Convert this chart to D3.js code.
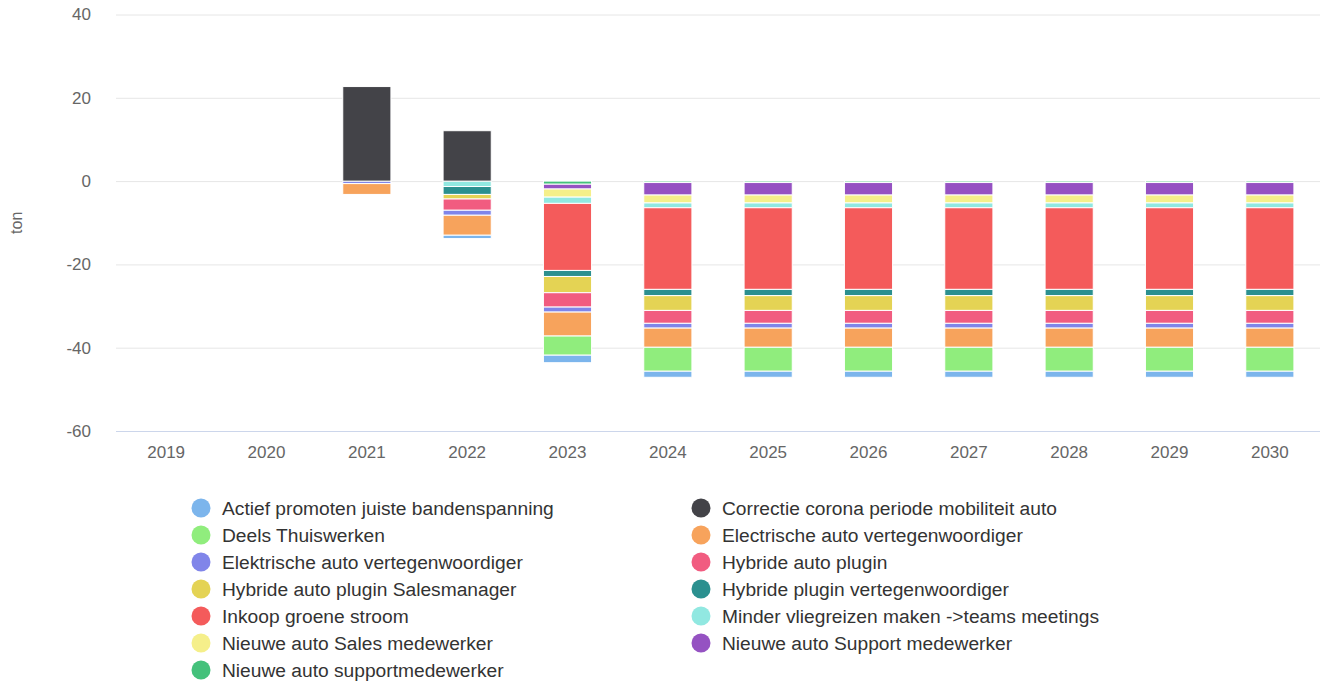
<!DOCTYPE html>
<html lang="nl">
<head>
<meta charset="UTF-8">
<title>ton per jaar</title>
<script src="https://cdn.jsdelivr.net/npm/d3@7"></script>
<style>
	* { margin: 0; padding: 0; }
	body { background: #fff; }
	svg { display: block; font-family: "Liberation Sans", Arial, sans-serif; }
</style>
</head>
<body>
<script>
	// categorieen (jaren)
	var years = ['2019', '2020', '2021', '2022', '2023', '2024', '2025', '2026', '2027', '2028', '2029', '2030'];
	var yTicks = [40, 20, 0, -20, -40, -60];

	var seriesNames = [
		'Actief promoten juiste bandenspanning',
		'Correctie corona periode mobiliteit auto',
		'Deels Thuiswerken',
		'Electrische auto vertegenwoordiger',
		'Elektrische auto vertegenwoordiger',
		'Hybride auto plugin',
		'Hybride auto plugin Salesmanager',
		'Hybride plugin vertegenwoordiger',
		'Inkoop groene stroom',
		'Minder vliegreizen maken ->teams meetings',
		'Nieuwe auto Sales medewerker',
		'Nieuwe auto Support medewerker',
		'Nieuwe auto supportmedewerker'
	];
	var seriesColors = ['#7cb5ec', '#434348', '#90ed7d', '#f7a35c', '#8085e9', '#f15c80', '#e4d354',
		'#2b908f', '#f45b5b', '#91e8e1', '#f5ef8a', '#9552c2', '#44c17b'];

	// waarden per serie, 2019 t/m 2030
	var actief         = [0, 0, 0, -0.8, -1.8, -1.45, -1.45, -1.45, -1.45, -1.45, -1.45, -1.45];
	var correctie      = [0, 0, 22.7, 12.1, 0, 0, 0, 0, 0, 0, 0, 0];
	var deels          = [0, 0, 0, 0, -4.6, -5.75, -5.75, -5.75, -5.75, -5.75, -5.75, -5.75];
	var electrische    = [0, 0, -2.6, -4.8, -5.75, -4.6, -4.6, -4.6, -4.6, -4.6, -4.6, -4.6];
	var elektrische    = [0, 0, -0.6, -1.2, -1.2, -1.15, -1.15, -1.15, -1.15, -1.15, -1.15, -1.15];
	var hybride        = [0, 0, 0, -2.7, -3.45, -3.1, -3.1, -3.1, -3.1, -3.1, -3.1, -3.1];
	var hybrideSales   = [0, 0, 0, -1.1, -3.9, -3.55, -3.55, -3.55, -3.55, -3.55, -3.55, -3.55];
	var hybrideVert    = [0, 0, 0, -1.9, -1.45, -1.5, -1.5, -1.5, -1.5, -1.5, -1.5, -1.5];
	var inkoop         = [0, 0, 0, 0, -16.1, -19.6, -19.6, -19.6, -19.6, -19.6, -19.6, -19.6];
	var minderVliegen  = [0, 0, 0, -1.3, -1.5, -1.15, -1.15, -1.15, -1.15, -1.15, -1.15, -1.15];
	var nieuweSales    = [0, 0, 0, 0, -1.95, -1.9, -1.9, -1.9, -1.9, -1.9, -1.9, -1.9];
	var nieuweSupport  = [0, 0, 0, 0, -1.15, -3.0, -3.0, -3.0, -3.0, -3.0, -3.0, -3.0];
	var nieuweSupport2 = [0, 0, 0, 0, -0.75, -0.35, -0.35, -0.35, -0.35, -0.35, -0.35, -0.35];

	var seriesValues = [actief, correctie, deels, electrische, elektrische, hybride, hybrideSales,
		hybrideVert, inkoop, minderVliegen, nieuweSales, nieuweSupport, nieuweSupport2];

	var W = 1320, H = 684;
	var plot = { left: 116, right: 1320, top: 14.5, bottom: 431 };

	var svg = d3.select('body').append('svg').attr('width', W).attr('height', H);

	var x = d3.scaleBand().domain(years).range([plot.left, plot.right]);
	var y = d3.scaleLinear().domain([-60, 40]).range([plot.bottom, plot.top]);

	// rasterlijnen + y labels
	var yAxis = svg.append('g')
		.attr('transform', 'translate(' + plot.left + ',0)')
		.call(d3.axisLeft(y).tickValues(yTicks).tickFormat(function (d) { return String(d); })
			.tickSize(-(plot.right - plot.left)).tickPadding(25));
	yAxis.select('.domain').remove();
	yAxis.selectAll('.tick line').attr('stroke', '#e6e6e6');
	yAxis.selectAll('.tick').filter(function (d) { return d === -60; }).select('line').attr('stroke', '#ccd6eb');
	yAxis.selectAll('.tick text').attr('fill', '#666').style('font-size', '17px');

	// x as
	var xAxis = svg.append('g')
		.attr('transform', 'translate(0,' + plot.bottom + ')')
		.call(d3.axisBottom(x).tickSize(0).tickPadding(15));
	xAxis.select('.domain').remove();
	xAxis.selectAll('.tick text').attr('fill', '#666').style('font-size', '17px');

	// titel y as
	svg.append('text')
		.attr('transform', 'translate(22,' + ((plot.top + plot.bottom) / 2) + ') rotate(-90)')
		.attr('text-anchor', 'middle')
		.attr('fill', '#666')
		.style('font-size', '16px')
		.text('ton');

	// stapelen: laatste serie ligt het dichtst bij nul
	var rects = [];
	var posBase = years.map(function () { return 0; });
	var negBase = years.map(function () { return 0; });
	for (var s = seriesValues.length - 1; s >= 0; s--) {
		seriesValues[s].forEach(function (v, i) {
			if (!v) return;
			var y0, y1;
			if (v > 0) { y0 = posBase[i]; y1 = y0 + v; posBase[i] = y1; }
			else { y0 = negBase[i]; y1 = y0 + v; negBase[i] = y1; }
			rects.push({ s: s, i: i, y0: y0, y1: y1 });
		});
	}

	var barW = x.bandwidth() * 0.48;
	svg.append('g').selectAll('rect')
		.data(rects)
		.enter()
		.append('rect')
		.attr('x', function (d) { return x(years[d.i]) + (x.bandwidth() - barW) / 2; })
		.attr('y', function (d) { return y(Math.max(d.y0, d.y1)); })
		.attr('width', barW)
		.attr('height', function (d) { return Math.abs(y(d.y0) - y(d.y1)); })
		.attr('fill', function (d) { return seriesColors[d.s]; })
		.attr('stroke', '#fff')
		.attr('stroke-width', 1);

	// legenda, twee kolommen
	var legend = svg.append('g');
	var item = legend.selectAll('g')
		.data(seriesNames)
		.enter()
		.append('g')
		.attr('transform', function (d, i) {
			return 'translate(' + (201 + (i % 2) * 500) + ',' + (508 + Math.floor(i / 2) * 27) + ')';
		});
	item.append('circle').attr('r', 9.5).attr('fill', function (d, i) { return seriesColors[i]; });
	item.append('text')
		.attr('x', 21)
		.attr('dy', '0.35em')
		.attr('fill', '#333')
		.style('font-size', '19.2px')
		.text(function (d) { return d; });
</script>
</body>
</html>
